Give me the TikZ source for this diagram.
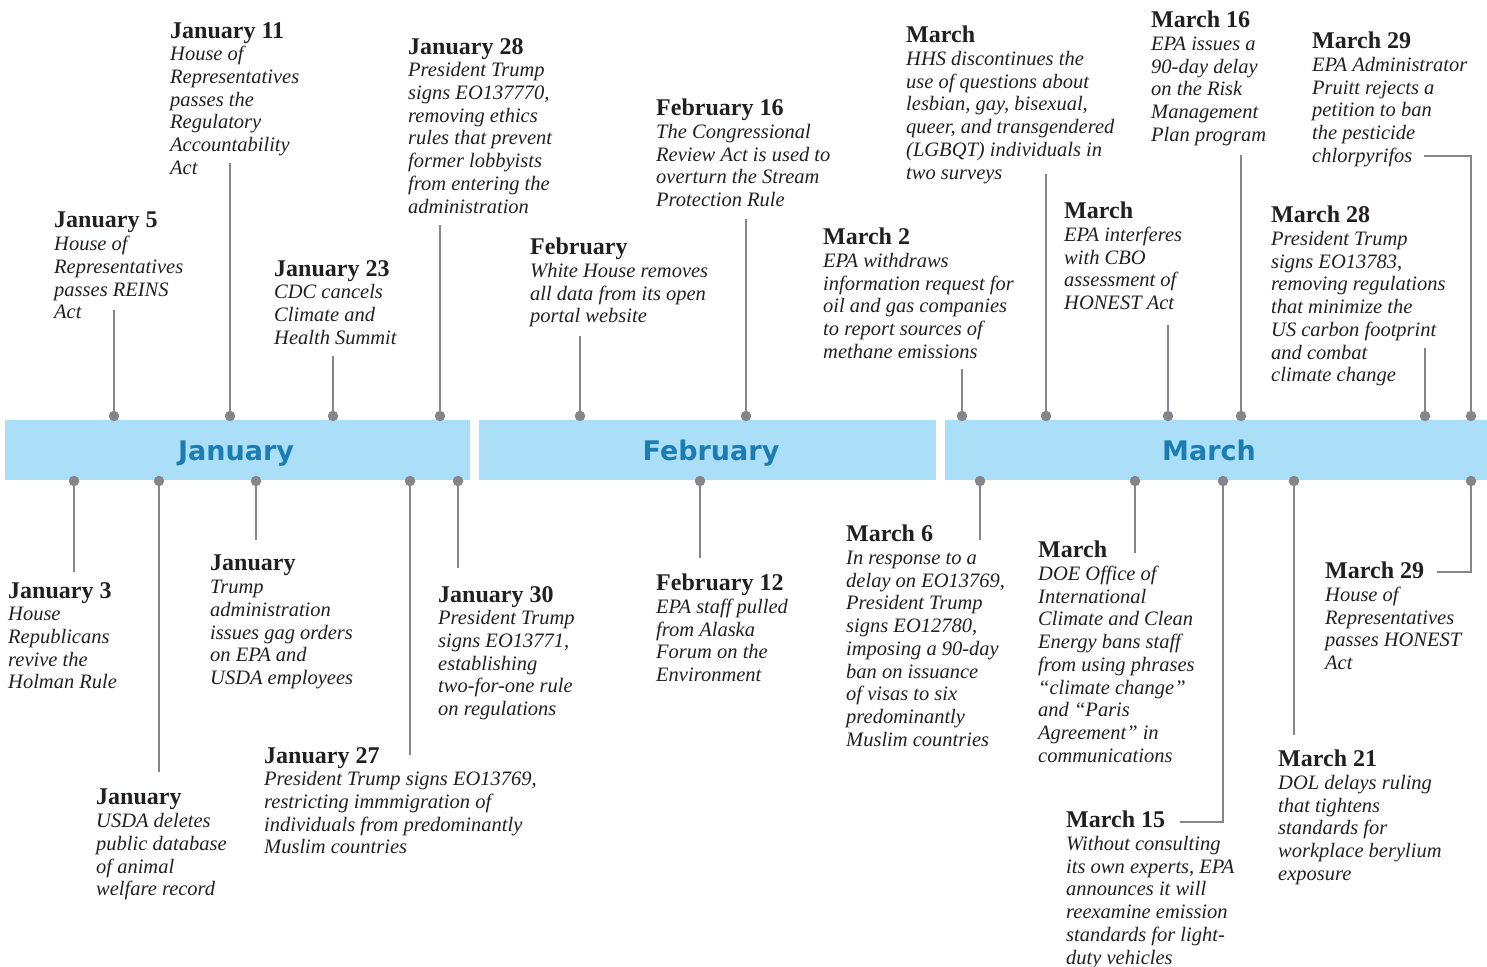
\documentclass[tikz,border=0pt]{standalone}
\usepackage{fontspec}
\setmainfont{Liberation Serif}
\newfontfamily\monthfont{DejaVu Sans}
\usepackage{tikz}
\definecolor{barblue}{RGB}{171,223,247}
\definecolor{monthblue}{RGB}{28,125,178}
\definecolor{stemgray}{RGB}{133,134,138}
\definecolor{inkdark}{RGB}{35,31,32}
\tikzset{
  monthbar/.style={rectangle, fill=barblue, minimum height=60pt, inner sep=0pt},
  monthlbl/.style={inner sep=0pt, text height=20pt, text depth=5pt, text=monthblue,
                   font=\monthfont\bfseries\fontsize{27}{27}\selectfont},
  event/.style={anchor=north west, align=left, inner sep=0pt, text=inkdark,
                font=\itshape\fontsize{20.5}{22.7}\selectfont},
  stemdot/.style={circle, fill=stemgray, inner sep=0pt, minimum size=10.5pt},
  stem/.style={draw=stemgray, line width=2.8pt},
}
\newcommand{\evdate}[1]{{\upshape\bfseries\fontsize{24}{22.7}\selectfont #1}}

\begin{document}
\begin{tikzpicture}[x=1pt,y=-1pt]
  \useasboundingbox (0,0) rectangle (1487,966);
  % month bars
  \node[monthbar, minimum width=465pt] (jan) at (237.5,450) {};
  \node[monthbar, minimum width=457pt] (feb) at (707.5,450) {};
  \node[monthbar, minimum width=542pt] (mar) at (1216,450) {};
  \node[monthlbl] (jan-lbl) at (236,453) {January};
  \node[monthlbl] (feb-lbl) at (711,453) {February};
  \node[monthlbl] (mar-lbl) at (1209,453) {March};

  % events above the bar
  \node[event] (jan05) at (54,212) {\evdate{January 5}\\House of\\Representatives\\passes REINS\\Act};
  \node[event] (jan11) at (170,22) {\evdate{January 11}\\House of\\Representatives\\passes the\\Regulatory\\Accountability\\Act};
  \node[event] (jan23) at (274,260) {\evdate{January 23}\\CDC cancels\\Climate and\\Health Summit};
  \node[event] (jan28) at (408,38) {\evdate{January 28}\\President Trump\\signs EO137770,\\removing ethics\\rules that prevent\\former lobbyists\\from entering the\\administration};
  \node[event] (febwh) at (530,238) {\evdate{February}\\White House removes\\all data from its open\\portal website};
  \node[event] (feb16) at (656,99) {\evdate{February 16}\\The Congressional\\Review Act is used to\\overturn the Stream\\Protection Rule};
  \node[event] (mar02) at (823,228) {\evdate{March 2}\\EPA withdraws\\information request for\\oil and gas companies\\to report sources of\\methane emissions};
  \node[event] (marhhs) at (906,26) {\evdate{March}\\HHS discontinues the\\use of questions about\\lesbian, gay, bisexual,\\queer, and transgendered\\(LGBQT) individuals in\\two surveys};
  \node[event] (marcbo) at (1064,202) {\evdate{March}\\EPA interferes\\with CBO\\assessment of\\HONEST Act};
  \node[event] (mar16) at (1151,11) {\evdate{March 16}\\EPA issues a\\90-day delay\\on the Risk\\Management\\Plan program};
  \node[event] (mar28) at (1271,206) {\evdate{March 28}\\President Trump\\signs EO13783,\\removing regulations\\that minimize the\\US carbon footprint\\and combat\\climate change};
  \node[event] (mar29a) at (1312,32) {\evdate{March 29}\\EPA Administrator\\Pruitt rejects a\\petition to ban\\the pesticide\\chlorpyrifos};

  % events below the bar
  \node[event] (jan03) at (8,582) {\evdate{January 3}\\House\\Republicans\\revive the\\Holman Rule};
  \node[event] (janusda) at (96,789) {\evdate{January}\\USDA deletes\\public database\\of animal\\welfare record};
  \node[event] (jangag) at (210,555) {\evdate{January}\\Trump\\administration\\issues gag orders\\on EPA and\\USDA employees};
  \node[event] (jan27) at (264,747) {\evdate{January 27}\\President Trump signs EO13769,\\restricting immmigration of\\individuals from predominantly\\Muslim countries};
  \node[event] (jan30) at (438,586) {\evdate{January 30}\\President Trump\\signs EO13771,\\establishing\\two-for-one rule\\on regulations};
  \node[event] (feb12) at (656,574) {\evdate{February 12}\\EPA staff pulled\\from Alaska\\Forum on the\\Environment};
  \node[event] (mar06) at (846,525) {\evdate{March 6}\\In response to a\\delay on EO13769,\\President Trump\\signs EO12780,\\imposing a 90-day\\ban on issuance\\of visas to six\\predominantly\\Muslim countries};
  \node[event] (mardoe) at (1038,541) {\evdate{March}\\DOE Office of\\International\\Climate and Clean\\Energy bans staff\\from using phrases\\“climate change”\\and “Paris\\Agreement” in\\communications};
  \node[event] (mar15) at (1066,811) {\evdate{March 15}\\Without consulting\\its own experts, EPA\\announces it will\\reexamine emission\\standards for light-\\duty vehicles};
  \node[event] (mar21) at (1278,750) {\evdate{March 21}\\DOL delays ruling\\that tightens\\standards for\\workplace berylium\\exposure};
  \node[event] (mar29b) at (1325,562) {\evdate{March 29}\\House of\\Representatives\\passes HONEST\\Act};

  % stems: name / dot x / dot y / free end
  \foreach \n/\x/\y/\e in {jan05/114/416/{114,310}, jan11/230/416/{230,163}, jan23/333/416/{333,356},
      jan28/440/416/{440,225}, febwh/580/416/{580,336}, feb16/746/416/{746,219},
      mar02/962/416/{962,369}, marhhs/1046/416/{1046,174}, marcbo/1168/416/{1168,325},
      mar16/1241/416/{1241,155}, mar28/1425/416/{1425,348}, mar29a/1471/416/{1424,156},
      jan03/74/481/{74,572}, janusda/159/481/{159,772}, jangag/256/481/{256,540},
      jan27/410/481/{410,755}, jan30/458/481/{458,568}, feb12/700/481/{700,558},
      mar06/980/481/{980,540}, mardoe/1135/481/{1135,553}, mar15/1223/481/{1180,822},
      mar21/1294/481/{1294,735}, mar29b/1471/481/{1437,572}} {
    \node[stemdot] (\n-dot) at (\x,\y) {};
    \coordinate (\n-end) at (\e);
    \draw[stem] (\n-dot) |- (\n-end);
  }
\end{tikzpicture}
\end{document}
